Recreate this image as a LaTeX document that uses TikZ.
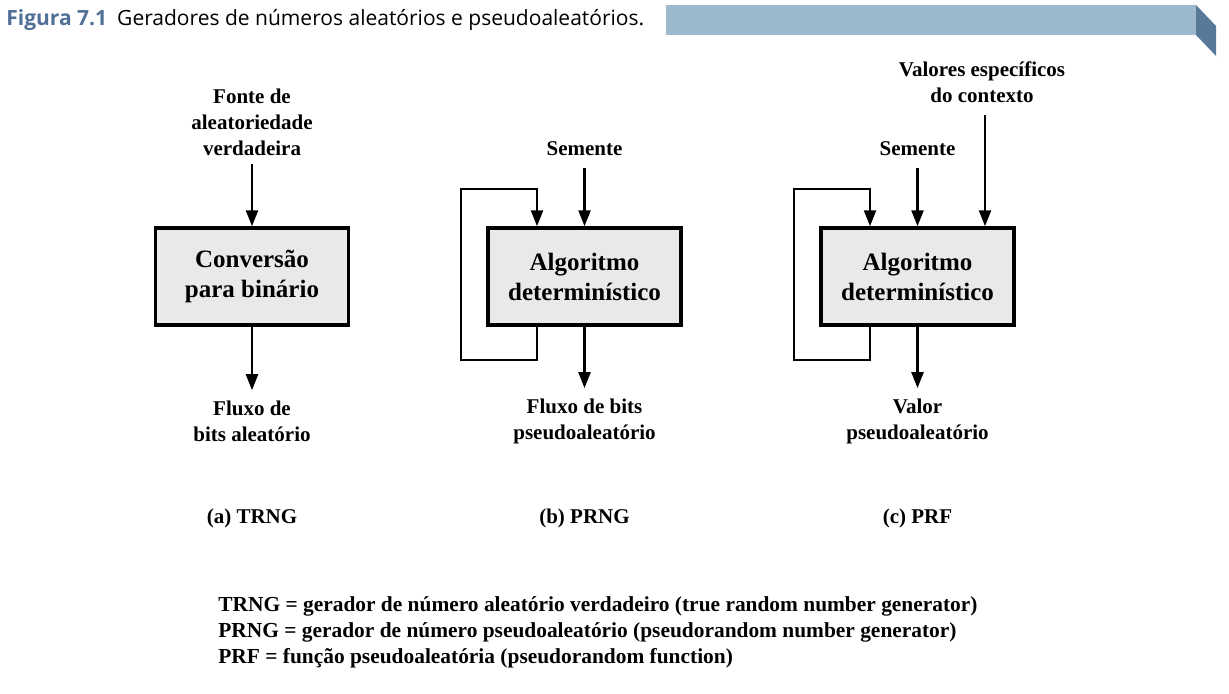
\documentclass[tikz,border=0pt]{standalone}
\usepackage{fontspec}
\setmainfont{Liberation Serif}
\newfontfamily\headfont{Open Sans}
\usepackage{tikz}
\usetikzlibrary{positioning}
\usetikzlibrary{arrows.meta,calc}

\definecolor{boxgray}{RGB}{232,233,234}
\definecolor{headblue}{RGB}{80,112,150}
\definecolor{barblue}{RGB}{155,184,204}
\definecolor{folddark}{RGB}{88,122,152}

\tikzset{
  lbl/.style={font=\bfseries\fontsize{10.5}{13}\selectfont, align=center, inner sep=0pt},
  algbox/.style={draw, line width=1.75pt, fill=boxgray, minimum width=96.5pt, minimum height=48.5pt,
                 font=\bfseries\fontsize{12.5}{15}\selectfont, align=center, inner sep=0pt},
  flow/.style={line width=1.2pt, -{Triangle[length=8pt,width=6pt]}},
  plain/.style={line width=1.2pt}
}

\begin{document}
\begin{tikzpicture}[x=0.5pt, y=-0.5pt]
  \useasboundingbox (0,0) rectangle (1229,693);

  % header
  \fill[barblue] (666,5) rectangle (1196,35);
  \fill[folddark] (1196,5) -- (1216,26) -- (1216,56) -- (1196,35) -- cycle;
  \node[anchor=base west, inner sep=0pt, font=\headfont\fontsize{10.5}{13}\selectfont] (title) at (6,25)
     {\textcolor{headblue}{\bfseries Figura 7.1}\hspace{5pt}Geradores de números aleatórios e pseudoaleatórios.};

  % (a) TRNG
  \node[algbox] (conv) at (252,276.5) {Conversão\\para binário};
  \node[lbl] (fonte) at (252,122) {Fonte de\\aleatoriedade\\verdadeira};
  \node[lbl] (fluxa) at (252,421) {Fluxo de\\bits aleatório};
  \draw[flow, shorten <=4pt] (fonte) -- (conv);
  \draw[flow, shorten >=5pt] (conv) -- (fluxa);

  % (b) PRNG and (c) PRF
  \foreach \cx/\name/\out in {584.5/prng/{Fluxo de bits\\pseudoaleatório}, 917.5/prf/{Valor\\pseudoaleatório}} {
    \node[algbox] (\name) at (\cx,276.5) {Algoritmo\\determinístico};
    \node[lbl] (sem\name) at (\cx,149) {Semente};
    \node[lbl] (out\name) at (\cx,421) {\out};
    \draw[flow, shorten <=6pt] (sem\name) -- (\name);
    \draw[flow, shorten >=5pt] (\name) -- (out\name);
    % feedback
    \draw[plain] ([xshift=-23.75pt]\name.south) -- ++(0,33) -- ++(-76,0)
       |- ([xshift=-23.75pt,yshift=18.5pt]\name.north);
    \draw[flow] ([xshift=-23.75pt,yshift=19pt]\name.north) -- ([xshift=-23.75pt]\name.north);
  }

  \node[lbl] (ctx) at (982,82) {Valores específicos\\do contexto};
  \draw[flow, shorten <=6pt] (ctx.south -| 985,0) -- ([xshift=33.75pt]prf.north);

  % captions
  \node[lbl] (capa) at (252,518) {(a) TRNG};
  \node[lbl] (capb) at (584.5,518) {(b) PRNG};
  \node[lbl] (capc) at (917.5,518) {(c) PRF};

  % legend
  \node[lbl, font=\bfseries\fontsize{10.7}{13}\selectfont, align=left, anchor=west] (legend) at (218,632)
    {TRNG = gerador de número aleatório verdadeiro (true random number generator)\\
     PRNG = gerador de número pseudoaleatório (pseudorandom number generator)\\
     PRF = função pseudoaleatória (pseudorandom function)};
\end{tikzpicture}
\end{document}
